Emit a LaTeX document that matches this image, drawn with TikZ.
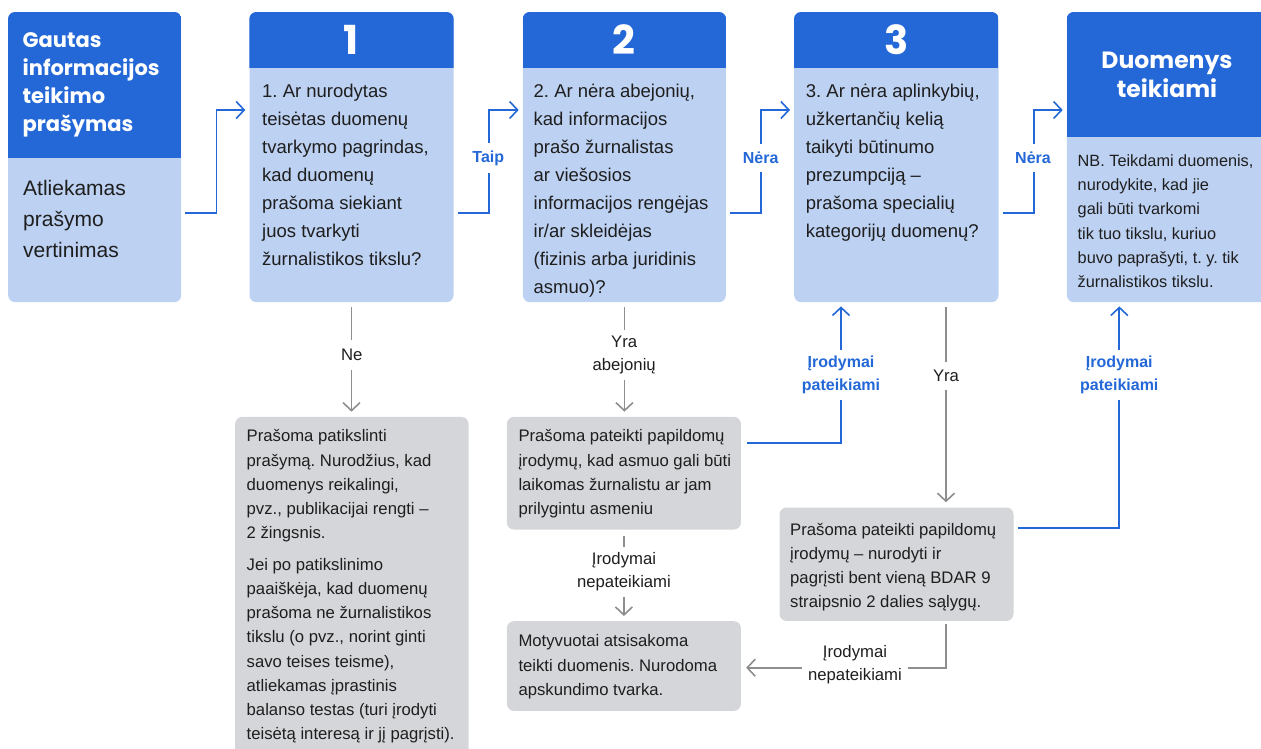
\documentclass[tikz,border=0pt]{standalone}
\usepackage{fontspec}
\setmainfont{Liberation Sans}
\newfontfamily\pop{Poppins}
\usetikzlibrary{arrows.meta,calc}
\definecolor{hdr}{RGB}{36,104,216}
\definecolor{lbody}{RGB}{189,209,242}
\definecolor{gbox}{RGB}{213,214,217}
\definecolor{gline}{RGB}{142,142,142}
\definecolor{txt}{RGB}{30,30,30}
\tikzset{
  boxbase/.style={anchor=north west, inner sep=0pt, rounded corners=7pt, draw=none},
  lbox/.style={boxbase, fill=lbody},
  gboxs/.style={boxbase, fill=gbox},
  bodytext/.style={anchor=north west, inner sep=0pt, align=left, text=txt, font=\fontsize{18.5}{28}\selectfont},
  greytext/.style={anchor=north west, inner sep=0pt, align=left, text=txt, font=\fontsize{16.7}{24.2}\selectfont},
  numtext/.style={anchor=base, inner sep=0pt, text=white, font=\pop\bfseries\fontsize{40}{40}\selectfont},
  tip/.style={-{Straight Barb[length=8pt,width=17pt,line width=1.6pt]}},
  blc/.style={draw=hdr, line width=1.8pt, shorten <=4pt, shorten >=4pt, tip},
  grc/.style={draw=gline, line width=1.8pt, shorten <=5pt, shorten >=5pt, tip},
  glab/.style={fill=white, inner xsep=6pt, inner ysep=6pt, align=center, text=txt, font=\fontsize{16.7}{23}\selectfont},
  blab/.style={fill=white, inner xsep=6pt, inner ysep=6pt, align=center, text=hdr, font=\bfseries\fontsize{16}{23.5}\selectfont},
}
\begin{document}
\frenchspacing
\begin{tikzpicture}[x=1pt,y=-1pt]
\useasboundingbox (0,0) rectangle (1261,749);
% boxes
\node[lbox, minimum width=173pt, minimum height=290pt] (b0) at (8,12) {};
\node[lbox, minimum width=204pt, minimum height=290pt] (b1) at (249.3,12) {};
\node[lbox, minimum width=203pt, minimum height=290pt] (b2) at (522.7,12) {};
\node[lbox, minimum width=204.3pt, minimum height=290pt] (b3) at (794,12) {};
\node[lbox, minimum width=202pt, minimum height=290pt] (b4) at (1066.7,12) {};
% headers
\foreach \b/\h in {b0/158.3, b1/68.3, b2/68.3, b3/68.3, b4/136.7}{
  \begin{scope}
    \clip[rounded corners=7pt] (\b.north west) rectangle (\b.south east);
    \fill[hdr] (\b.north west) rectangle (\b.east |- 0,\h);
  \end{scope}
}
% grey boxes
\node[gboxs, minimum width=233.3pt, minimum height=345pt] (gA) at (235,416.7) {};
\node[gboxs, minimum width=234pt, minimum height=112.6pt] (gB) at (506.7,416.7) {};
\node[gboxs, minimum width=234pt, minimum height=89.7pt] (gC) at (506.7,621) {};
\node[gboxs, minimum width=234pt, minimum height=113.4pt] (gD) at (779.3,507.3) {};

% header texts
\node[anchor=north west, inner sep=0pt, align=left, text=white, font=\pop\bfseries\fontsize{21}{28}\selectfont] (t0h) at (22.5,27.4) {\strut Gautas\\informacijos\\teikimo\\prašymas};
\node[anchor=north west, inner sep=0pt, align=left, text=txt, font=\fontsize{21}{31}\selectfont] (t0b) at (23,173.3) {\strut Atliekamas\\prašymo\\vertinimas};
\node[numtext] (n1) at (351.3,55) {1};
\node[numtext] (n2) at (624.2,55) {2};
\node[numtext] (n3) at (896.2,55) {3};
\node[anchor=north, inner sep=0pt, align=center, text=white, font=\pop\bfseries\fontsize{23.5}{29}\selectfont] (t4h) at (1167,47.7) {\strut Duomenys\\teikiami};

% body texts
\node[bodytext] (t1) at (262,77.4) {\strut 1. Ar nurodytas\\teisėtas duomenų\\tvarkymo pagrindas,\\kad duomenų\\prašoma siekiant\\juos tvarkyti\\žurnalistikos tikslu?};
\node[bodytext] (t2) at (533.5,77.4) {\strut 2. Ar nėra abejonių,\\kad informacijos\\prašo žurnalistas\\ar viešosios\\informacijos rengėjas\\ir/ar skleidėjas\\(fizinis arba juridinis\\asmuo)?};
\node[bodytext] (t3) at (805.7,77.4) {\strut 3. Ar nėra aplinkybių,\\užkertančių kelią\\taikyti būtinumo\\prezumpciją –\\prašoma specialių\\kategorijų duomenų?};
\node[anchor=north west, inner sep=0pt, align=left, text=txt, font=\fontsize{16.3}{24.3}\selectfont] (t4) at (1077.5,149) {\strut NB. Teikdami duomenis,\\nurodykite, kad jie\\gali būti tvarkomi\\tik tuo tikslu, kuriuo\\buvo paprašyti, t. y. tik\\žurnalistikos tikslu.};

\node[greytext] (tA) at (246.5,424.8) {\strut Prašoma patikslinti\\prašymą. Nurodžius, kad\\duomenys reikalingi,\\pvz., publikacijai rengti –\\2 žingsnis.\\[7.3pt]Jei po patikslinimo\\paaiškėja, kad duomenų\\prašoma ne žurnalistikos\\tikslu (o pvz., norint ginti\\savo teises teisme),\\atliekamas įprastinis\\balanso testas (turi įrodyti\\teisėtą interesą ir jį pagrįsti).};
\node[greytext] (tB) at (518.3,424.8) {\strut Prašoma pateikti papildomų\\įrodymų, kad asmuo gali būti\\laikomas žurnalistu ar jam\\prilygintu asmeniu};
\node[greytext] (tC) at (518.3,629.8) {\strut Motyvuotai atsisakoma\\teikti duomenis. Nurodoma\\apskundimo tvarka.};
\node[greytext] (tD) at (790,518) {\strut Prašoma pateikti papildomų\\įrodymų – nurodyti ir\\pagrįsti bent vieną BDAR 9\\straipsnio 2 dalies sąlygų.};

% helper coordinates on box edges
\coordinate (c3a) at ([xshift=47pt]b3.south west);
\coordinate (c3b) at ([xshift=152pt]b3.south west);
\coordinate (c4a) at ([xshift=52.6pt]b4.south west);

% blue connectors
\draw[blc] (b0.east |- 0,213.3) -- ++(35,0) |- (b1.west |- 0,110);
\draw[blc] (b1.east |- 0,213.3) -- ++(35,0) |- (b2.west |- 0,110);
\draw[blc] (b2.east |- 0,213.3) -- ++(35,0) |- (b3.west |- 0,110);
\draw[blc] (b3.east |- 0,213.3) -- ++(35,0) |- (b4.west |- 0,110);
\draw[blc, shorten <=6pt] (gB.east |- 0,442.7) -| (c3a);
\draw[blc] (gD.east |- 0,528.3) -| (c4a);

% grey connectors
\draw[grc] (b1.south) -- (b1.south |- gA.north);
\draw[grc] (b2.south) -- (b2.south |- gB.north);
\draw[grc, shorten <=6pt] (gB.south) -- (gB.south |- gC.north);
\draw[grc] (c3b) -- (c3b |- gD.north);
\draw[grc, shorten <=3pt] (c3b |- gD.south) |- (gC.east |- 0,667.7);

% labels
\node[blab, inner ysep=8pt] (lTaip) at (488.3,158) {Taip};
\node[blab, inner ysep=8pt] (lNera1) at (760.7,158) {Nėra};
\node[blab, inner ysep=8pt] (lNera2) at (1033,158) {Nėra};
\node[glab, inner ysep=9pt] (lNe) at (351.7,355) {Ne};
\node[glab] (lYra1) at (624.2,355) {Yra\\abejonių};
\node[glab] (lInp1) at (624,572) {Įrodymai\\nepateikiami};
\node[blab] (lIp1) at (841,375) {Įrodymai\\pateikiami};
\node[glab, inner ysep=8pt] (lYra2) at (946,376) {Yra};
\node[blab] (lIp2) at (1119.3,375) {Įrodymai\\pateikiami};
\node[glab, inner ysep=1pt] (lInp2) at (855,665) {Įrodymai\\nepateikiami};
\end{tikzpicture}
\end{document}
